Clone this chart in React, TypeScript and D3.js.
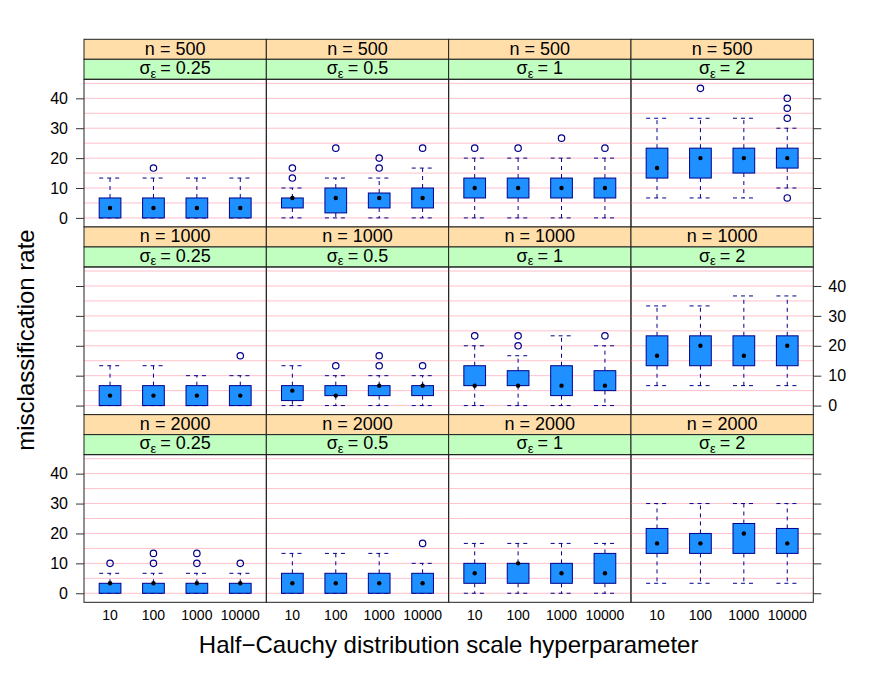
import * as React from 'react';
import * as d3 from 'd3';

// box stats: [lower whisker, lower hinge, median, upper hinge, upper whisker, outliers]
type Box = [number, number, number, number, number, number[]];

const nLevels = ['500', '1000', '2000'];
const sigmaLevels = ['0.25', '0.5', '1', '2'];
const scaleLevels = ['10', '100', '1000', '10000'];
const yTicks = [0, 10, 20, 30, 40];

// n = 500, one row per sigma, one box per scale
const n500: Box[][] = [
  [
    [0, 0, 3.33, 6.67, 13.33, []],
    [0, 0, 3.33, 6.67, 13.33, [16.67]],
    [0, 0, 3.33, 6.67, 13.33, []],
    [0, 0, 3.33, 6.67, 13.33, []],
  ],
  [
    [0, 3.33, 6.67, 6.67, 10, [13.33, 16.67]],
    [0, 1.67, 6.67, 10, 13.33, [23.33]],
    [0, 3.33, 6.67, 8.33, 13.33, [16.67, 20]],
    [0, 3.33, 6.67, 10, 16.67, [23.33]],
  ],
  [
    [0, 6.67, 10, 13.33, 20, [23.33]],
    [0, 6.67, 10, 13.33, 20, [23.33]],
    [0, 6.67, 10, 13.33, 20, [26.67]],
    [0, 6.67, 10, 13.33, 20, [23.33]],
  ],
  [
    [6.67, 13.33, 16.67, 23.33, 33.33, []],
    [6.67, 13.33, 20, 23.33, 33.33, [43.33]],
    [6.67, 15, 20, 23.33, 33.33, []],
    [10, 16.67, 20, 23.33, 30, [6.67, 33.33, 36.67, 40]],
  ],
];

const n1000: Box[][] = [
  [
    [0, 0, 3.33, 6.67, 13.33, []],
    [0, 0, 3.33, 6.67, 13.33, []],
    [0, 0, 3.33, 6.67, 10, []],
    [0, 0, 3.33, 6.67, 10, [16.67]],
  ],
  [
    [0, 1.67, 5, 6.67, 13.33, []],
    [0, 3.33, 3.33, 6.67, 10, [13.33]],
    [0, 3.33, 6.67, 6.67, 10, [13.33, 16.67]],
    [0, 3.33, 6.67, 6.67, 10, [13.33]],
  ],
  [
    [0, 6.67, 6.67, 13.33, 20, [23.33]],
    [0, 6.67, 6.67, 11.67, 16.67, [20, 23.33]],
    [0, 3.33, 6.67, 13.33, 23.33, []],
    [0, 5, 6.67, 11.67, 20, [23.33]],
  ],
  [
    [6.67, 13.33, 16.67, 23.33, 33.33, []],
    [6.67, 13.33, 20, 23.33, 33.33, []],
    [6.67, 13.33, 16.67, 23.33, 36.67, []],
    [6.67, 13.33, 20, 23.33, 36.67, []],
  ],
];

const n2000: Box[][] = [
  [
    [0, 0, 3.33, 3.33, 6.67, [10]],
    [0, 0, 3.33, 3.33, 6.67, [10, 13.33]],
    [0, 0, 3.33, 3.33, 6.67, [10, 13.33]],
    [0, 0, 3.33, 3.33, 6.67, [10]],
  ],
  [
    [0, 0, 3.33, 6.67, 13.33, []],
    [0, 0, 3.33, 6.67, 13.33, []],
    [0, 0, 3.33, 6.67, 13.33, []],
    [0, 0, 3.33, 6.67, 10, [16.67]],
  ],
  [
    [0, 3.33, 6.67, 10, 16.67, []],
    [0, 3.33, 10, 10, 16.67, []],
    [0, 3.33, 6.67, 10, 16.67, []],
    [0, 3.33, 6.67, 13.33, 16.67, []],
  ],
  [
    [3.33, 13.33, 16.67, 21.67, 30, []],
    [3.33, 13.33, 16.67, 20, 30, []],
    [3.33, 13.33, 20, 23.33, 30, []],
    [3.33, 13.33, 16.67, 21.67, 30, []],
  ],
];

const rows = [n500, n1000, n2000];

const FONT = '"Liberation Sans", Arial, Helvetica, sans-serif';
const BOXCOL = '#00008B';

function App() {
  const ref = React.useRef<SVGSVGElement>(null);

  React.useEffect(() => {
    const svg = d3.select(ref.current);
    svg.selectAll('*').remove();

    const left = 84;
    const right = 813.3;
    const top = 39.3;
    const stripH = 20;
    const rowH = 187.67;
    const panelW = (right - left) / sigmaLevels.length;
    const panelH = rowH - 2 * stripH;

    const g = svg.append('g').attr('font-family', FONT);

    rows.forEach((rowData, ri) => {
      const rowTop = top + ri * rowH;
      const pTop = rowTop + 2 * stripH;
      const pBot = rowTop + rowH;
      const y = d3.scaleLinear().domain([-3.03, 46.36]).range([pBot, pTop]);

      sigmaLevels.forEach((sig, ci) => {
        const px = left + ci * panelW;
        const x = d3.scaleLinear().domain([0.4, scaleLevels.length + 0.6]).range([px, px + panelW]);
        const bw = x(1.5) - x(1);
        const p = g.append('g');

        // strips
        p.append('rect').attr('x', px).attr('y', rowTop).attr('width', panelW).attr('height', stripH)
          .attr('fill', '#FFDEAA').attr('stroke', '#222');
        p.append('rect').attr('x', px).attr('y', rowTop + stripH).attr('width', panelW).attr('height', stripH)
          .attr('fill', '#C0FFC0').attr('stroke', '#222');
        const nt = p.append('text').attr('x', px + panelW / 2).attr('y', rowTop + 15.4)
          .attr('text-anchor', 'middle').attr('font-size', 18);
        nt.append('tspan').text('n');
        nt.append('tspan').attr('dx', 5).text('=');
        nt.append('tspan').attr('dx', 5).text(nLevels[ri]);
        const st = p.append('text').attr('x', px + panelW / 2).attr('y', rowTop + stripH + 14.7)
          .attr('text-anchor', 'middle').attr('font-size', 18);
        st.append('tspan').text('\u03c3');
        st.append('tspan').attr('font-size', 13).attr('dy', 3.5).text('\u03b5');
        st.append('tspan').attr('dy', -3.5).attr('dx', 4).text('=');
        st.append('tspan').attr('dx', 5).text(sig);

        // grid
        p.selectAll('line.grid').data(d3.range(0, 50, 5)).enter().append('line')
          .attr('x1', px).attr('x2', px + panelW)
          .attr('y1', (d) => y(d)).attr('y2', (d) => y(d))
          .attr('stroke', '#FFC0CB').attr('stroke-width', 1);

        const boxes = rowData[ci];
        boxes.forEach((b, i) => {
          const cx = x(i + 1);
          const [lw, q1, med, q3, uw, out] = b;
          const bg = p.append('g');
          // whiskers
          [[q1, lw], [q3, uw]].forEach(([a, e]) => {
            bg.append('line').attr('x1', cx).attr('x2', cx).attr('y1', y(a)).attr('y2', y(e))
              .attr('stroke', BOXCOL).attr('stroke-dasharray', '4,4');
            bg.append('line').attr('x1', cx - bw / 2).attr('x2', cx + bw / 2).attr('y1', y(e)).attr('y2', y(e))
              .attr('stroke', BOXCOL).attr('stroke-dasharray', '4,4');
          });
          bg.append('rect').attr('x', cx - bw / 2).attr('width', bw)
            .attr('y', y(q3)).attr('height', Math.max(0, y(q1) - y(q3)))
            .attr('fill', '#1E90FF').attr('stroke', BOXCOL).attr('stroke-width', 1);
          bg.append('circle').attr('cx', cx).attr('cy', y(med)).attr('r', 2.2).attr('fill', 'black');
          out.forEach((o) => {
            bg.append('circle').attr('cx', cx).attr('cy', y(o)).attr('r', 3.2)
              .attr('fill', 'none').attr('stroke', BOXCOL).attr('stroke-width', 1.2);
          });
        });

        // panel border
        p.append('rect').attr('x', px).attr('y', pTop).attr('width', panelW).attr('height', panelH)
          .attr('fill', 'none').attr('stroke', '#222');

        // x labels at bottom row
        if (ri === rows.length - 1) {
          p.selectAll('text.xl').data(scaleLevels).enter().append('text')
            .attr('x', (d, i) => x(i + 1)).attr('y', pBot + 18)
            .attr('text-anchor', 'middle').attr('font-size', 14).text((d) => d);
        }
      });

      // y axes, alternating labels
      const labelLeft = ri % 2 === 0;
      const lAxis = d3.axisLeft(y).tickValues(yTicks).tickSize(8).tickPadding(8)
        .tickFormat((d: any) => (labelLeft ? String(d) : ''));
      const rAxis = d3.axisRight(y).tickValues(yTicks).tickSize(8).tickPadding(7)
        .tickFormat((d: any) => (labelLeft ? '' : String(d)));
      [
        g.append('g').attr('transform', `translate(${left},0)`).call(lAxis),
        g.append('g').attr('transform', `translate(${right},0)`).call(rAxis),
      ].forEach((a) => {
        a.select('.domain').remove();
        a.selectAll('line').attr('stroke', '#333');
        a.selectAll('text').attr('font-size', 16).attr('font-family', FONT).attr('fill', '#000');
      });
    });

    g.append('text').attr('x', (left + right) / 2).attr('y', 653)
      .attr('text-anchor', 'middle').attr('font-size', 24)
      .text('Half\u2212Cauchy distribution scale hyperparameter');
    g.append('text').attr('transform', 'translate(33.5,340) rotate(-90)')
      .attr('text-anchor', 'middle').attr('font-size', 24)
      .text('misclassification rate');
  }, []);

  return (
    <svg ref={ref} width={872} height={678}
      style={{ position: 'absolute', left: 0, top: 0, background: '#fff' }} />
  );
}

export default App;
